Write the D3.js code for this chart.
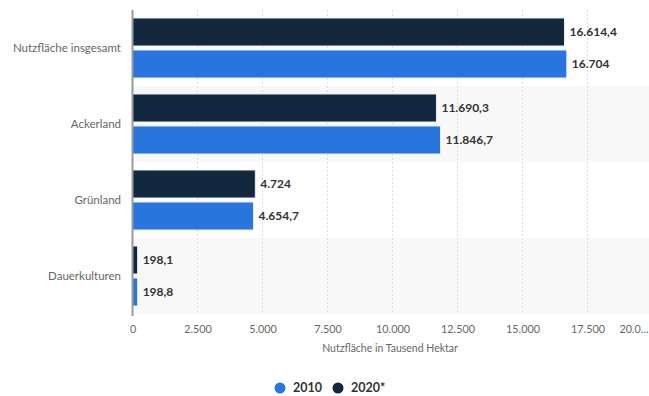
<!DOCTYPE html>
<html><head><meta charset="utf-8">
<script src="https://cdn.jsdelivr.net/npm/d3@7"></script>
<style>body{margin:0;background:#fff;}svg{display:block;font-family:Lato,"Open Sans",sans-serif;}</style>
</head><body><svg id="c" width="649" height="396"></svg>
<script>
const categories = ["Nutzfläche insgesamt", "Ackerland", "Grünland", "Dauerkulturen"];
const series = ["2020*", "2010"];
const values2020 = [16614.4, 11690.3, 4724, 198.1];
const values2010 = [16704, 11846.7, 4654.7, 198.8];
const labels2020 = ["16.614,4", "11.690,3", "4.724", "198,1"];
const labels2010 = ["16.704", "11.846,7", "4.654,7", "198,8"];
const tickValues = [0, 2500, 5000, 7500, 10000, 12500, 15000, 17500, 20000];
const tickLabels = ["0", "2.500", "5.000", "7.500", "10.000", "12.500", "15.000", "17.500", "20.0..."];
const colors = {"2010": "#2876dd", "2020*": "#12263d"};

const svg = d3.select("#c");
const x = d3.scaleLinear().domain([0, 20000]).range([132.5, 652.5]);
const y = d3.scaleBand().domain(categories).range([10, 314]);
const inner = d3.scaleBand().domain(series).range([0, y.bandwidth()]).paddingInner(0.125).paddingOuter(0.25);

// alternating bands
svg.selectAll("rect.band").data(categories).join("rect")
  .attr("x", x(0)).attr("y", d => y(d)).attr("width", 649 - x(0)).attr("height", y.bandwidth())
  .attr("fill", (d, i) => i % 2 ? "#f8f8f8" : "#fff");

// grid
svg.selectAll("line.grid").data(tickValues.slice(1)).join("line")
  .attr("x1", d => x(d)).attr("x2", d => x(d)).attr("y1", 10).attr("y2", 314)
  .attr("stroke", "#dcdcdc").attr("stroke-dasharray", "2,2").attr("stroke-width", 1);

const rows = categories.map((c, i) => ({c, v: [
  {s: "2020*", v: values2020[i], l: labels2020[i]},
  {s: "2010", v: values2010[i], l: labels2010[i]}]}));

const g = svg.selectAll("g.row").data(rows).join("g").attr("transform", d => `translate(0,${y(d.c)})`);
g.selectAll("rect").data(d => d.v).join("rect")
  .attr("x", x(0)).attr("y", d => inner(d.s)).attr("width", d => x(d.v) - x(0)).attr("height", inner.bandwidth())
  .attr("fill", d => colors[d.s]).attr("stroke", "#e8eef5").attr("stroke-width", 1);
g.selectAll("text").data(d => d.v).join("text")
  .attr("x", d => x(d.v) + 5).attr("y", d => inner(d.s) + inner.bandwidth() / 2).attr("dy", "0.35em")
  .attr("font-size", 12).attr("font-weight", "bold").attr("fill", "#333").text(d => d.l);

// category labels
svg.selectAll("text.cat").data(categories).join("text")
  .attr("x", 121).attr("y", d => y(d) + y.bandwidth() / 2).attr("dy", "0.35em")
  .attr("text-anchor", "end").attr("font-size", 11.5).attr("fill", "#666").text(d => d);

// axis line
svg.append("line").attr("x1", x(0)).attr("x2", x(0)).attr("y1", 10).attr("y2", 316)
  .attr("stroke", "#999").attr("stroke-width", 2);

// x axis
const xAxis = d3.axisBottom(x).tickValues(tickValues).tickSize(0).tickFormat((d, i) => tickLabels[i]);
const ax = svg.append("g").attr("transform", "translate(0,322)").call(xAxis);
ax.select(".domain").remove();
ax.selectAll("text").attr("font-size", 10.8).attr("fill", "#666").attr("font-family", "Lato,'Open Sans',sans-serif");
ax.selectAll(".tick").filter(d => d === 20000).select("text").attr("text-anchor", "end").attr("x", 648 - x(20000));

svg.append("text").attr("x", 390).attr("y", 352).attr("text-anchor", "middle")
  .attr("font-size", 10.5).attr("fill", "#666").text("Nutzfläche in Tausend Hektar");

// legend
const legend = [{s: "2010", cx: 280}, {s: "2020*", cx: 338}];
const lg = svg.selectAll("g.leg").data(legend).join("g");
lg.append("circle").attr("cx", d => d.cx).attr("cy", 388).attr("r", 5.5).attr("fill", d => colors[d.s]);
lg.append("text").attr("x", d => d.cx + 13).attr("y", 388).attr("dy", "0.35em")
  .attr("font-size", 12.5).attr("font-weight", "bold").attr("fill", "#333").text(d => d.s);
</script></body></html>
